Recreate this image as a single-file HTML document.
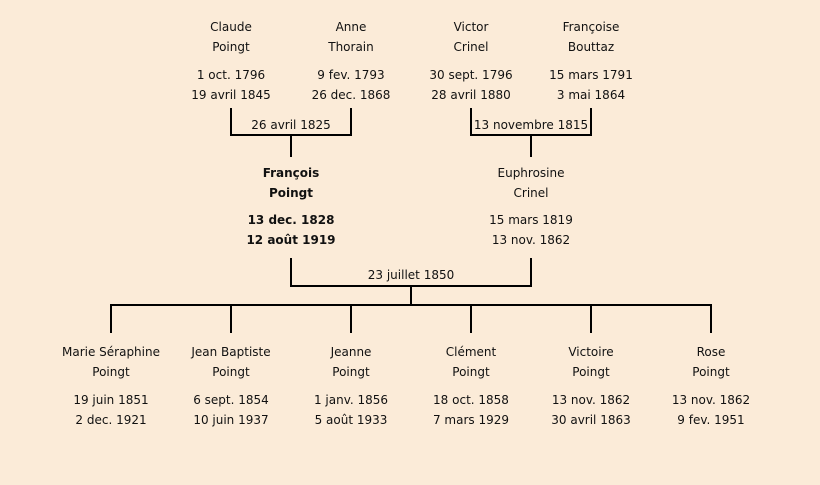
<!DOCTYPE html>
<html><head><meta charset="utf-8"><style>
body{margin:0;width:820px;height:485px;background:#fbebd8;position:relative;overflow:hidden;font-family:"Comic Sans MS","DejaVu Sans",sans-serif;font-size:12px;color:#111}
.t{position:absolute;width:140px;margin-left:-70px;text-align:center;line-height:20px;white-space:nowrap}
.b{font-weight:bold}
.l{position:absolute;background:#000}
</style></head><body>
<div class="t" style="left:231px;top:17px">Claude<br>Poingt</div>
<div class="t" style="left:231px;top:65px">1 oct. 1796<br>19 avril 1845</div>
<div class="t" style="left:351px;top:17px">Anne<br>Thorain</div>
<div class="t" style="left:351px;top:65px">9 fev. 1793<br>26 dec. 1868</div>
<div class="t" style="left:471px;top:17px">Victor<br>Crinel</div>
<div class="t" style="left:471px;top:65px">30 sept. 1796<br>28 avril 1880</div>
<div class="t" style="left:591px;top:17px">Françoise<br>Bouttaz</div>
<div class="t" style="left:591px;top:65px">15 mars 1791<br>3 mai 1864</div>

<div class="l" style="left:230px;top:108px;width:2px;height:28px"></div>
<div class="l" style="left:350px;top:108px;width:2px;height:28px"></div>
<div class="l" style="left:230px;top:134px;width:122px;height:2px"></div>
<div class="l" style="left:290px;top:134px;width:2px;height:23px"></div>
<div class="t" style="left:291px;top:115px">26 avril 1825</div>
<div class="l" style="left:470px;top:108px;width:2px;height:28px"></div>
<div class="l" style="left:590px;top:108px;width:2px;height:28px"></div>
<div class="l" style="left:470px;top:134px;width:122px;height:2px"></div>
<div class="l" style="left:530px;top:134px;width:2px;height:23px"></div>
<div class="t" style="left:531px;top:115px">13 novembre 1815</div>

<div class="t b" style="left:291px;top:163px">François<br>Poingt</div>
<div class="t b" style="left:291px;top:210px">13 dec. 1828<br>12 août 1919</div>
<div class="t" style="left:531px;top:163px">Euphrosine<br>Crinel</div>
<div class="t" style="left:531px;top:210px">15 mars 1819<br>13 nov. 1862</div>

<div class="l" style="left:290px;top:258px;width:2px;height:29px"></div>
<div class="l" style="left:530px;top:258px;width:2px;height:29px"></div>
<div class="l" style="left:290px;top:285px;width:242px;height:2px"></div>
<div class="t" style="left:411px;top:265px">23 juillet 1850</div>
<div class="l" style="left:410px;top:285px;width:2px;height:21px"></div>
<div class="l" style="left:110px;top:304px;width:602px;height:2px"></div>
<div class="l" style="left:110px;top:304px;width:2px;height:29px"></div>
<div class="l" style="left:230px;top:304px;width:2px;height:29px"></div>
<div class="l" style="left:350px;top:304px;width:2px;height:29px"></div>
<div class="l" style="left:470px;top:304px;width:2px;height:29px"></div>
<div class="l" style="left:590px;top:304px;width:2px;height:29px"></div>
<div class="l" style="left:710px;top:304px;width:2px;height:29px"></div>

<div class="t" style="left:111px;top:342px">Marie Séraphine<br>Poingt</div>
<div class="t" style="left:111px;top:390px">19 juin 1851<br>2 dec. 1921</div>
<div class="t" style="left:231px;top:342px">Jean Baptiste<br>Poingt</div>
<div class="t" style="left:231px;top:390px">6 sept. 1854<br>10 juin 1937</div>
<div class="t" style="left:351px;top:342px">Jeanne<br>Poingt</div>
<div class="t" style="left:351px;top:390px">1 janv. 1856<br>5 août 1933</div>
<div class="t" style="left:471px;top:342px">Clément<br>Poingt</div>
<div class="t" style="left:471px;top:390px">18 oct. 1858<br>7 mars 1929</div>
<div class="t" style="left:591px;top:342px">Victoire<br>Poingt</div>
<div class="t" style="left:591px;top:390px">13 nov. 1862<br>30 avril 1863</div>
<div class="t" style="left:711px;top:342px">Rose<br>Poingt</div>
<div class="t" style="left:711px;top:390px">13 nov. 1862<br>9 fev. 1951</div>
</body></html>
